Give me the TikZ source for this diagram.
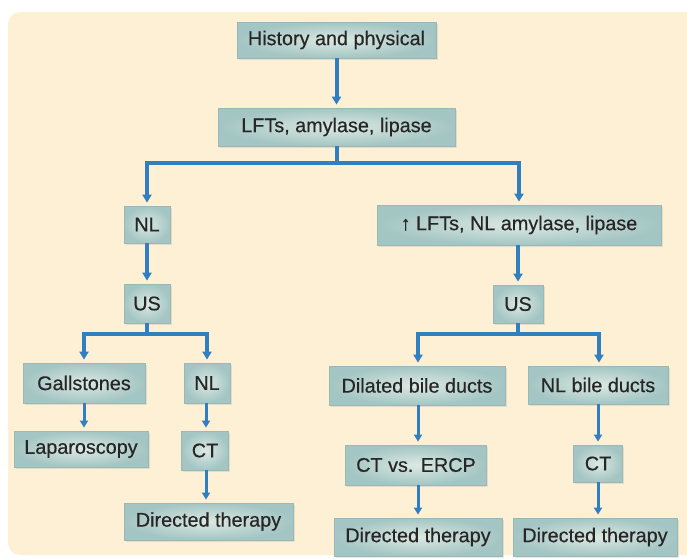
\documentclass[tikz,border=0pt]{standalone}
\usepackage{fontspec}
\setmainfont[FakeBold=0.4]{Liberation Sans}
\usetikzlibrary{arrows.meta,shadows}
\definecolor{cream}{HTML}{FDF0D5}
\definecolor{boxout}{HTML}{A3C5C3}
\definecolor{boxin}{HTML}{DCE9E3}
\definecolor{boxline}{HTML}{98B9B7}
\definecolor{flow}{HTML}{2F7FC1}
\definecolor{ink}{HTML}{262626}
\tikzset{
  stepbox/.style={rectangle, draw=boxline, line width=0.8pt,
    inner color=boxin, outer color=boxout,
    drop shadow={shadow xshift=1.5pt, shadow yshift=-1.5pt, opacity=0.18},
    text=ink, font=\fontsize{19.8}{22}\selectfont, inner sep=0pt},
  flowline/.style={draw=flow, line width=4pt},
  flowarr/.style={flowline, -{Triangle[length=8pt,width=9pt]}, shorten >=3pt},
  thinarr/.style={draw=flow, line width=3pt, -{Triangle[length=7pt,width=8pt]}, shorten >=3pt},
}
\begin{document}
\begin{tikzpicture}[x=1pt,y=-1pt]
\useasboundingbox (0,0) rectangle (687,558);
% backdrop
\fill[cream, rounded corners=12pt] (8,12) rectangle (700,555);

% boxes
\node[stepbox, minimum width=199pt, minimum height=36pt] (hp)   at (336.5,40)   {History and physical};
\node[stepbox, minimum width=237pt, minimum height=38pt] (lft)  at (336.5,127)  {LFTs, amylase, lipase};
\node[stepbox, minimum width=46pt,  minimum height=37pt] (nla)  at (147,224.5)  {NL};
\node[stepbox, minimum width=284pt, minimum height=40pt] (up)   at (519,225)    {↑ LFTs, NL amylase, lipase};
\node[stepbox, minimum width=46pt,  minimum height=39pt] (usa)  at (147,303.5)  {US};
\node[stepbox, minimum width=50pt,  minimum height=38pt] (usb)  at (518,304)    {US};
\node[stepbox, minimum width=122pt, minimum height=40pt] (gall) at (84,383)     {Gallstones};
\node[stepbox, minimum width=46pt,  minimum height=40pt] (nlb)  at (207,383)    {NL};
\node[stepbox, minimum width=134pt, minimum height=36pt] (lap)  at (81,449)     {Laparoscopy};
\node[stepbox, minimum width=47pt,  minimum height=39pt] (cta)  at (205,450.5)  {CT};
\node[stepbox, minimum width=169pt, minimum height=37pt] (dta)  at (208.5,521.5){Directed therapy};
\node[stepbox, minimum width=176pt, minimum height=39pt] (dil)  at (417,385.5)  {Dilated bile ducts};
\node[stepbox, minimum width=140pt, minimum height=38pt] (nld)  at (598,385)    {NL bile ducts};
\node[stepbox, minimum width=141pt, minimum height=40pt] (ctv)  at (416,465)    {CT vs. ERCP};
\node[stepbox, minimum width=49pt,  minimum height=37pt] (ctb)  at (598,463.5)  {CT};
\node[stepbox, minimum width=168pt, minimum height=38pt] (dtb)  at (418,537)    {Directed therapy};
\node[stepbox, minimum width=164pt, minimum height=38pt] (dtc)  at (595,537)    {Directed therapy};

% branch points
\coordinate (ja) at (336.5,163);
\coordinate (jb) at (147,334);
\coordinate (jc) at (518,334);

% connectors
\draw[flowarr] (hp.south) -- (lft.north);
\draw[flowline] (lft.south) -- (ja);
\draw[flowarr] (ja) -| (nla.north);
\draw[flowarr] (ja) -| (up.north);
\draw[flowarr] (nla.south) -- (usa.north);
\draw[flowarr] (up.south -| usb.north) -- (usb.north);

\draw[flowline] (usa.south) -- (jb);
\draw[flowarr] (jb) -| (gall.north);
\draw[flowarr] (jb) -| (nlb.north);
\draw[flowline] (usb.south) -- (jc);
\draw[flowarr] (jc) -| ([xshift=1pt]dil.north);
\draw[flowarr] (jc) -| ([xshift=1pt]nld.north);

\draw[thinarr] (gall.south) -- (gall.south |- lap.north);
\draw[thinarr] ([xshift=-1pt]nlb.south) -- ([xshift=-1pt]nlb.south |- cta.north);
\draw[thinarr] ([xshift=1pt]cta.south) -- ([xshift=1pt]cta.south |- dta.north);
\draw[thinarr] ([xshift=1pt]dil.south) -- ([xshift=1pt]dil.south |- ctv.north);
\draw[thinarr] ([xshift=2pt]ctv.south) -- ([xshift=2pt]ctv.south |- dtb.north);
\draw[thinarr] (nld.south) -- (nld.south |- ctb.north);
\draw[thinarr] (ctb.south) -- (ctb.south |- dtc.north);
\end{tikzpicture}
\end{document}
